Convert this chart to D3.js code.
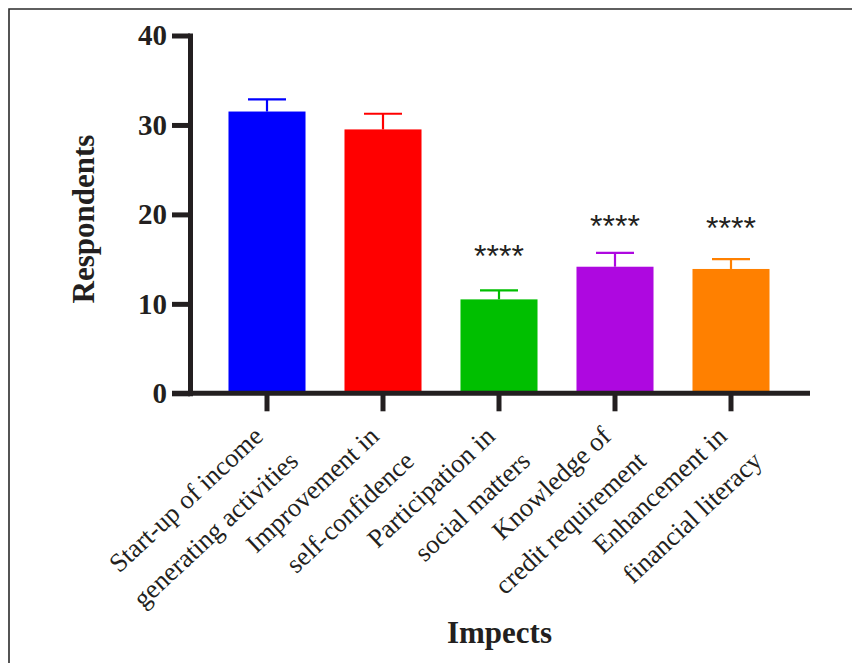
<!DOCTYPE html>
<html>
<head>
<meta charset="utf-8">
<script src="https://cdn.jsdelivr.net/npm/d3@7"></script>
<style>
  html, body { margin: 0; padding: 0; background: #fff; }
  svg { display: block; }
</style>
</head>
<body>
<script>
// ---- data ----
const categories = [
  ["Start-up of income", "generating activities"],
  ["Improvement in", "self-confidence"],
  ["Participation in", "social matters"],
  ["Knowledge of", "credit requirement"],
  ["Enhancement in", "financial literacy"]
];
const means = [31.5, 29.5, 10.5, 14.15, 13.9];
const errUpper = [32.85, 31.25, 11.5, 15.7, 15.0];
const significance = ["", "", "****", "****", "****"];
const sigLevel = [null, null, 16.2, 19.5, 19.25];
const colors = ["#0000FF", "#FF0000", "#00BF00", "#AE08E0", "#FF8000"];
const yTicks = [0, 10, 20, 30, 40];
const yTitle = "Respondents";
const xTitle = "Impects";

// ---- layout ----
const W = 852, H = 663;
const ink = "#231f20";
const svg = d3.select("body").append("svg").attr("width", W).attr("height", H);

// frame
svg.append("path")
  .attr("d", `M9,${H} V9 H${W}`)
  .attr("fill", "none").attr("stroke", "#2b2b2b").attr("stroke-width", 1.6);

const axisX = 190, baseY = 393.3, topY = 35.5;
const y = d3.scaleLinear().domain([0, 40]).range([baseY, topY]);
const x = d3.scaleBand().domain(d3.range(categories.length))
  .range([209, 789]).paddingInner(0.336).paddingOuter(0.168);
const xRight = 810;

// bars
const g = svg.append("g");
g.selectAll("rect.bar").data(means).join("rect")
  .attr("class", "bar")
  .attr("x", (d, i) => x(i))
  .attr("width", x.bandwidth())
  .attr("y", d => y(d))
  .attr("height", d => y(0) - y(d))
  .attr("fill", (d, i) => colors[i]);

// error bars
const capW = 38;
errUpper.forEach((e, i) => {
  const cx = x(i) + x.bandwidth() / 2;
  g.append("line").attr("x1", cx).attr("x2", cx)
    .attr("y1", y(means[i])).attr("y2", y(e))
    .attr("stroke", colors[i]).attr("stroke-width", 2.2);
  g.append("line").attr("x1", cx - capW / 2).attr("x2", cx + capW / 2)
    .attr("y1", y(e)).attr("y2", y(e))
    .attr("stroke", colors[i]).attr("stroke-width", 2.2);
});

// significance
const starFs = 32;
significance.forEach((s, i) => {
  if (!s) return;
  svg.append("text")
    .attr("x", x(i) + x.bandwidth() / 2)
    .attr("y", y(sigLevel[i]) + starFs * 0.57)
    .attr("text-anchor", "middle")
    .attr("font-family", "Liberation Sans, Arial, sans-serif")
    .attr("font-size", starFs)
    .attr("fill", ink)
    .text(s);
});

// y axis
const yAxis = svg.append("g").attr("transform", `translate(${axisX},0)`)
  .call(d3.axisLeft(y).tickValues(yTicks).tickSize(18).tickSizeOuter(0).tickPadding(5));
yAxis.select(".domain").attr("stroke", ink).attr("stroke-width", 5).attr("stroke-linecap", "square");
yAxis.selectAll(".tick line").attr("stroke", ink).attr("stroke-width", 5);
yAxis.selectAll(".tick text")
  .attr("font-family", "Liberation Serif, Times New Roman, serif")
  .attr("font-weight", "bold").attr("font-size", 29).attr("fill", ink);

// x axis
const xAxis = svg.append("g").attr("transform", `translate(0,${baseY})`)
  .call(d3.axisBottom(x).tickSize(18).tickFormat(""));
xAxis.select(".domain").remove();
xAxis.selectAll(".tick line").attr("stroke", ink).attr("stroke-width", 5);
svg.append("line")
  .attr("x1", axisX - 18).attr("x2", xRight)
  .attr("y1", baseY).attr("y2", baseY)
  .attr("stroke", ink).attr("stroke-width", 5);

// category labels
const labFs = 26.5, lineH = 42, angle = -43;
categories.forEach((lines, i) => {
  const cx = x(i) + x.bandwidth() / 2;
  const t = svg.append("text")
    .attr("transform", `translate(${cx - 2.5},${baseY + 45}) rotate(${angle})`)
    .attr("text-anchor", "end")
    .attr("font-family", "Liberation Serif, Times New Roman, serif")
    .attr("font-size", labFs).attr("fill", ink);
  lines.forEach((l, k) => {
    t.append("tspan").attr("x", k * 9).attr("y", k * lineH).text(l);
  });
});

// axis titles
svg.append("text")
  .attr("transform", `translate(93.5,219) rotate(-90)`)
  .attr("text-anchor", "middle")
  .attr("font-family", "Liberation Serif, Times New Roman, serif")
  .attr("font-weight", "bold").attr("font-size", 31).attr("fill", ink)
  .text(yTitle);
svg.append("text")
  .attr("x", 499.5).attr("y", 643)
  .attr("text-anchor", "middle")
  .attr("font-family", "Liberation Serif, Times New Roman, serif")
  .attr("font-weight", "bold").attr("font-size", 31).attr("fill", ink)
  .text(xTitle);
</script>
</body>
</html>
